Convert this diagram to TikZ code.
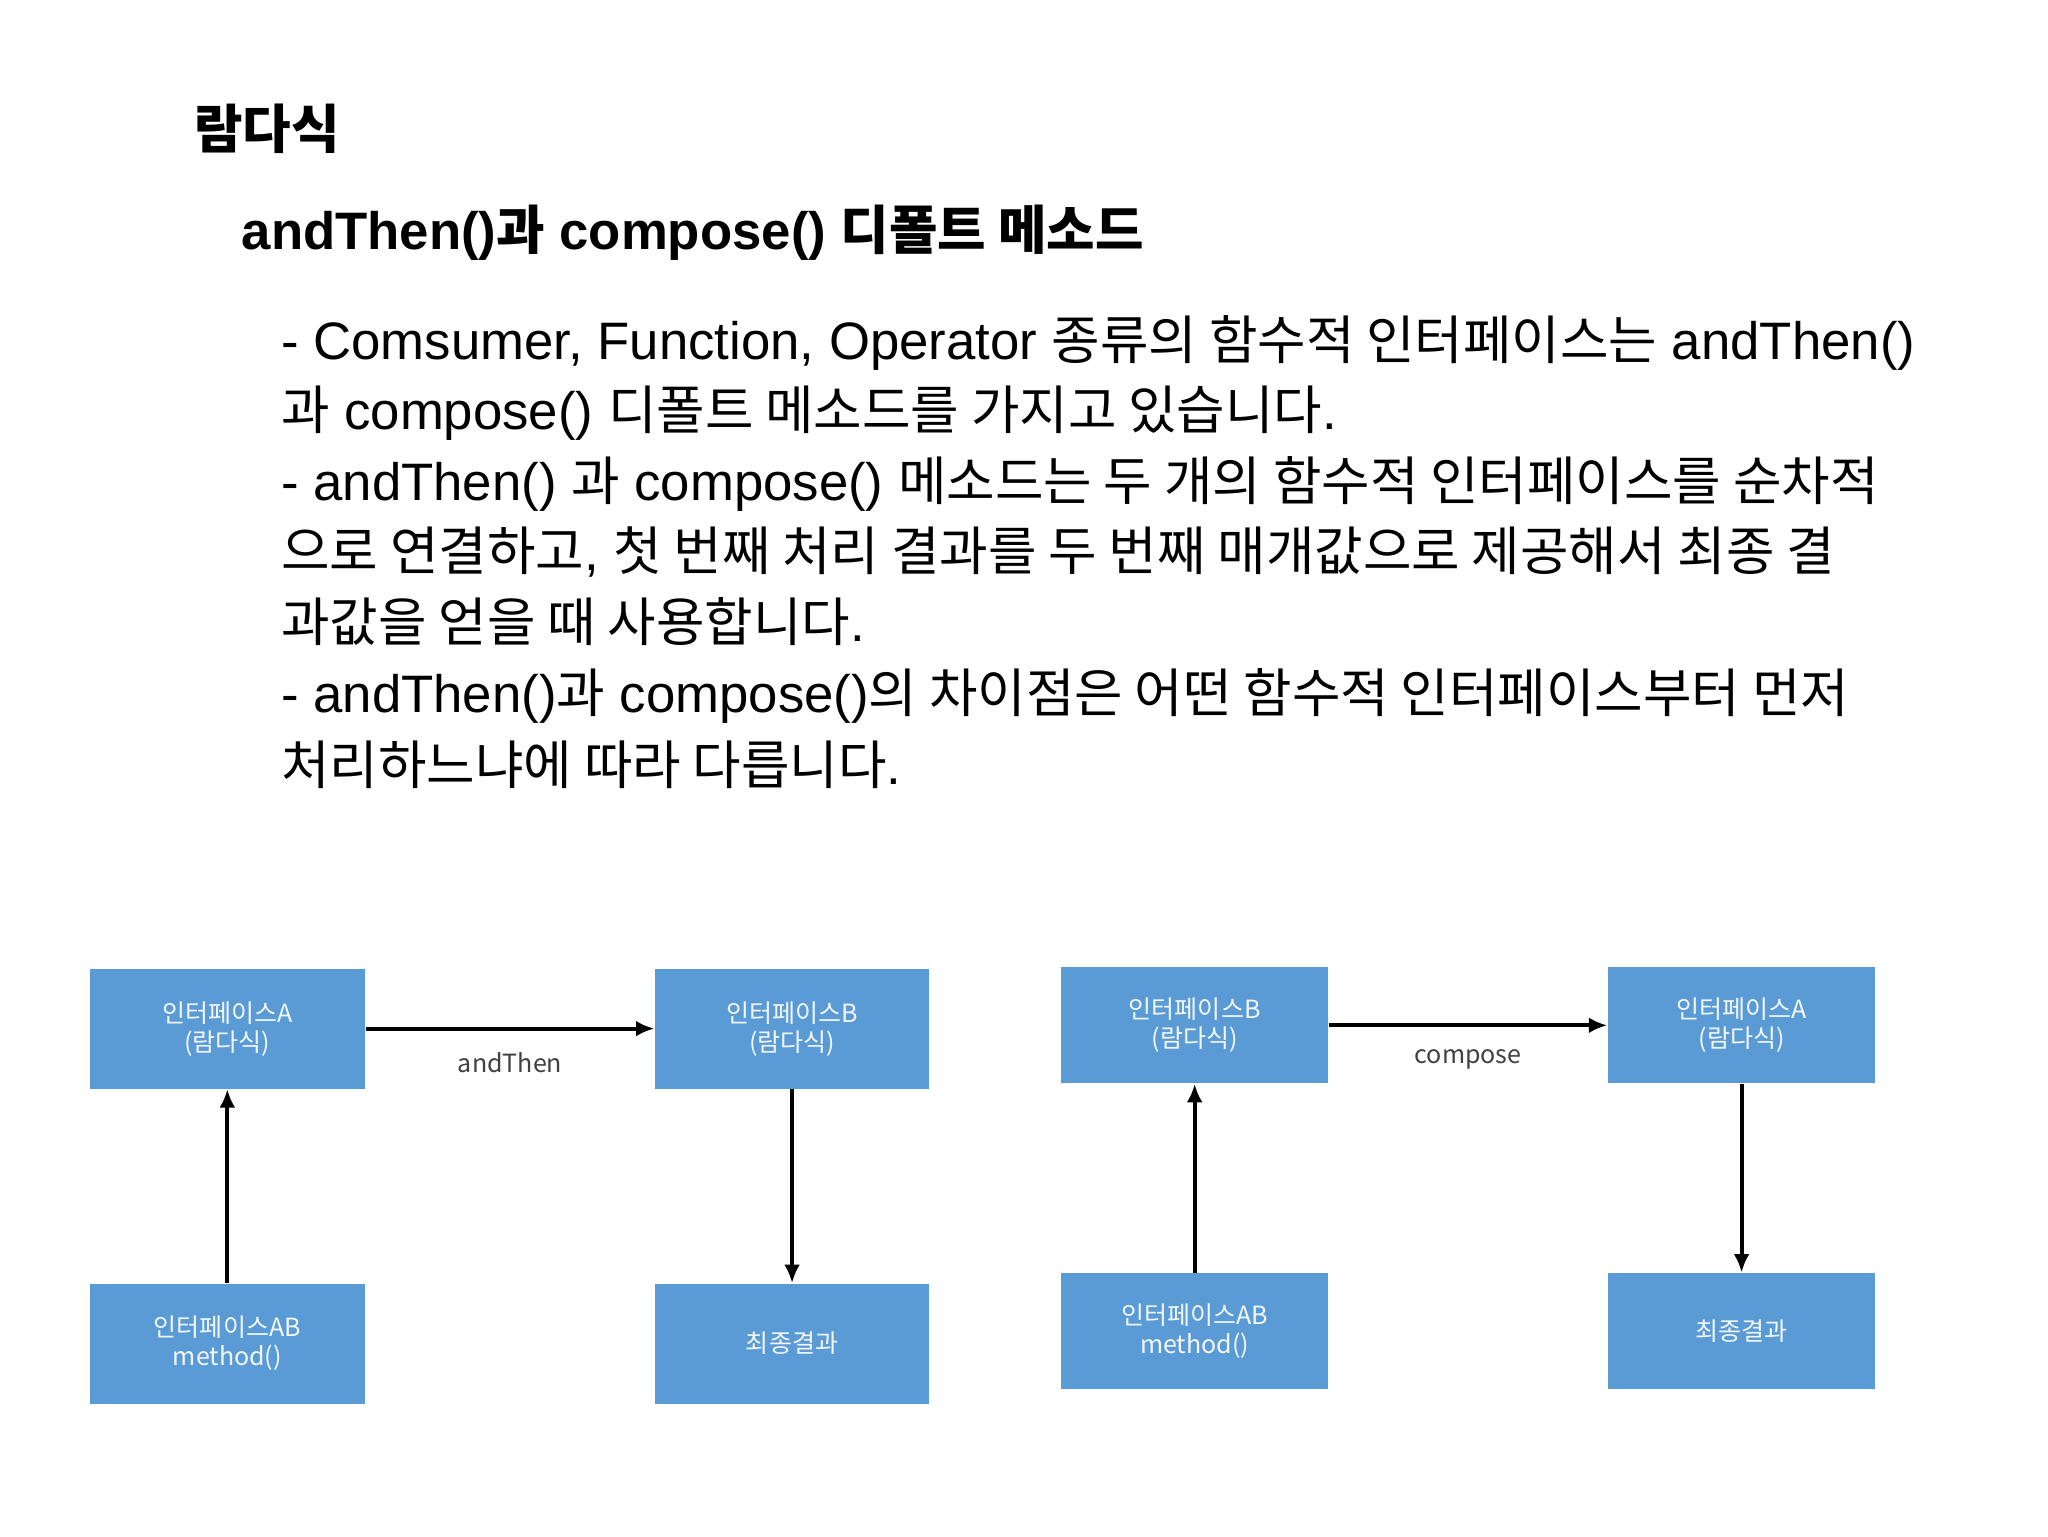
\documentclass[tikz,border=0pt]{standalone}
\usepackage{fontspec}
\setmainfont{Liberation Sans}
\newfontfamily\kf{Noto Sans CJK KR}
\newcommand{\ko}[1]{{\kf #1}}
\usetikzlibrary{arrows.meta}
\begin{document}
\begin{tikzpicture}[x=0.5pt,y=-0.5pt,
  bx/.style={fill=boxblue,draw=none,text=white!92!boxblue,font=\kf\fontsize{9.5}{11}\selectfont,align=center,inner sep=0pt},
  ln/.style={anchor=base west,inner sep=0pt,font=\fontsize{20}{22}\selectfont},
  ar/.style={-{Latex[length=7pt,width=6pt]},line width=1.5pt}]
\definecolor{boxblue}{HTML}{5B9BD5}
\useasboundingbox (0,0) rectangle (1554,1166);
\node[anchor=base west,inner sep=0pt,font=\kf\fontsize{20}{24}\selectfont\bfseries] (t) at (147,113) {람다식};
\node[anchor=base west,inner sep=0pt,font=\fontsize{20}{22}\selectfont\bfseries] (h) at (183,189) {andThen()\ko{과} compose() \ko{디폴트 메소드}};
\node[ln] (l1) at (213,273) {- Comsumer, Function, Operator \ko{종류의 함수적 인터페이스는} andThen()};
\node[ln] (l2) at (213,326) {\ko{과} compose() \ko{디폴트 메소드를 가지고 있습니다}.};
\node[ln] (l3) at (213,380) {- andThen() \ko{과} compose() \ko{메소드는 두 개의 함수적 인터페이스를 순차적}};
\node[ln] (l4) at (213,433) {\ko{으로 연결하고}, \ko{첫 번째 처리 결과를 두 번째 매개값으로 제공해서 최종 결}};
\node[ln] (l5) at (213,487) {\ko{과값을 얻을 때 사용합니다}.};
\node[ln] (l6) at (213,541) {- andThen()\ko{과} compose()\ko{의 차이점은 어떤 함수적 인터페이스부터 먼저}};
\node[ln] (l7) at (213,595) {\ko{처리하느냐에 따라 다릅니다}.};
% left diagram
\node[bx,minimum width=104.5pt,minimum height=45.5pt] (a1) at (172.5,780.5) {인터페이스A\\(람다식)};
\node[bx,minimum width=104pt,minimum height=45.5pt] (b1) at (601,780.5) {인터페이스B\\(람다식)};
\node[bx,minimum width=104.5pt,minimum height=45.5pt] (ab1) at (172.5,1019.5) {인터페이스AB\\method()};
\node[bx,minimum width=104pt,minimum height=45.5pt] (r1) at (601,1019.5) {최종결과};
\draw[ar] (a1) -- (b1) node[midway,below=5pt,font=\kf\fontsize{9.5}{10}\selectfont,text=black!75] (lab1) {andThen};
\draw[ar] (ab1) -- (a1);
\draw[ar] (b1) -- (r1);
% right diagram
\node[bx,minimum width=101.5pt,minimum height=44pt] (b2) at (906.5,778) {인터페이스B\\(람다식)};
\node[bx,minimum width=101.5pt,minimum height=44pt] (a2) at (1321.5,778) {인터페이스A\\(람다식)};
\node[bx,minimum width=101.5pt,minimum height=44pt] (ab2) at (906.5,1010) {인터페이스AB\\method()};
\node[bx,minimum width=101.5pt,minimum height=44pt] (r2) at (1321.5,1010) {최종결과};
\draw[ar] (b2) -- (a2) node[midway,below=5pt,font=\kf\fontsize{9.5}{10}\selectfont,text=black!75] (lab2) {compose};
\draw[ar] (ab2) -- (b2);
\draw[ar] (a2) -- (r2);
\end{tikzpicture}
\end{document}
